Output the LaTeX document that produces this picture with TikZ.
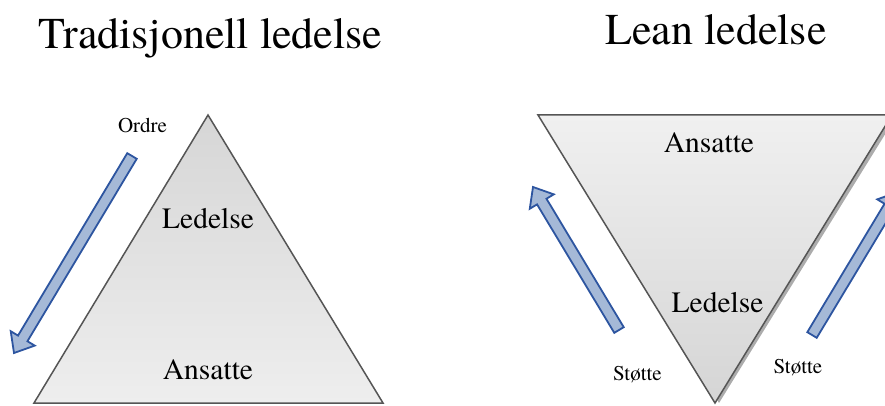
\documentclass[tikz,border=0pt]{standalone}
\usepackage{fontspec}
\setmainfont{TeX Gyre Termes}
\usetikzlibrary{calc}

\definecolor{arrowfill}{RGB}{165,185,215}
\definecolor{arrowline}{RGB}{45,85,160}
\definecolor{edgegray}{RGB}{85,85,85}

% broad outlined arrow from tail #1 to tip #2
\newcommand{\fatarrow}[2]{%
  \coordinate (t) at #1;
  \coordinate (p) at #2;
  \coordinate (h) at ($(p)!17pt!(t)$);
  \draw[fat arrow]
    ($(t)!5.5pt!90:(p)$) -- ($(h)!5.5pt!90:(p)$) -- ($(h)!14pt!90:(p)$)
    -- (p) -- ($(h)!14pt!-90:(p)$) -- ($(h)!5.5pt!-90:(p)$)
    -- ($(t)!5.5pt!-90:(p)$) -- cycle;
}

\begin{document}
\begin{tikzpicture}[x=1pt, y=-1pt,
  big/.style={font=\fontsize{44}{50}\selectfont, anchor=base, inner sep=0},
  mid/.style={font=\fontsize{29.5}{34}\selectfont, anchor=base, inner sep=0},
  small/.style={font=\fontsize{21}{24}\selectfont, anchor=base, inner sep=0},
  fat arrow/.style={fill=arrowfill, draw=arrowline, line width=1.8pt, line join=miter}]
  \useasboundingbox (0,0) rectangle (885,406);

  % titles
  \node[big] (tradtitle) at (210.5,49) {Tradisjonell ledelse};
  \node[big] (leantitle) at (716,45) {Lean ledelse};

  % pyramid
  \draw[edgegray, line width=1.5pt, top color={rgb,255:red,214;green,214;blue,214},
    bottom color={rgb,255:red,238;green,238;blue,238}]
    (208,115) -- (383,403) -- (34,403) -- cycle;
  \node[mid] (tradtop) at (208,228) {Ledelse};
  \node[mid] (tradbase) at (208,379) {Ansatte};

  % order arrow
  \fatarrow{(132,156)}{(14,353)}
  \node[small] (ordre) at (142.5,133) {Ordre};

  % inverted pyramid with shadow
  \fill[gray!65] (543,115) -- (897,115) -- (719,403) -- cycle;
  \draw[edgegray, line width=1.5pt, top color={rgb,255:red,240;green,240;blue,240},
    bottom color={rgb,255:red,213;green,213;blue,213}]
    (538,115) -- (892,115) -- (715,403) -- cycle;
  \node[mid] (leantop) at (709,153) {Ansatte};
  \node[mid] (leanbase) at (717.5,312) {Ledelse};

  % support arrows
  \fatarrow{(619,330)}{(533,187)}
  \fatarrow{(812,335)}{(898,192)}
  \node[small] (stotteleft) at (637.5,380) {Støtte};
  \node[small] (stotteright) at (798,373) {Støtte};
\end{tikzpicture}
\end{document}
